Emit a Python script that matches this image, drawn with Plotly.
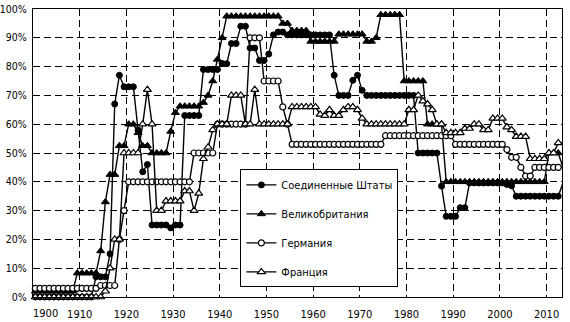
import plotly.graph_objects as go

years = list(range(1900, 2014))

# Top marginal income tax rates, % (one value per year 1900-2013)
us = [
    0, 0, 0, 0, 0, 0, 0, 0, 0, 0,
    0, 0, 0, 7, 7, 7, 15, 67, 77, 73,
    73, 73, 58, 43.5, 46, 25, 25, 25, 25, 24,
    25, 25, 63, 63, 63, 63, 79, 79, 79, 79,
    81.1, 81, 88, 88, 94, 94, 86.45, 86.45, 82.13, 82.13,
    84.36, 91, 92, 92, 91, 91, 91, 91, 91, 91,
    91, 91, 91, 91, 77, 70, 70, 70, 75.25, 77,
    71.75, 70, 70, 70, 70, 70, 70, 70, 70, 70,
    70, 70, 50, 50, 50, 50, 50, 38.5, 28, 28,
    28, 31, 31, 39.6, 39.6, 39.6, 39.6, 39.6, 39.6, 39.6,
    39.6, 39.1, 38.6, 35, 35, 35, 35, 35, 35, 35,
    35, 35, 35, 39.6,
]
uk = [
    2, 2, 2, 2, 2, 2, 2, 2, 2, 8.3,
    8.3, 8.3, 8.3, 8.3, 16, 33, 42.5, 42.5, 52.5, 52.5,
    60, 60, 57, 52.5, 52.5, 50, 50, 50, 50, 57.5,
    64, 66.25, 66.25, 66.25, 66.25, 66.25, 67.5, 70, 75, 82.5,
    90, 97.5, 97.5, 97.5, 97.5, 97.5, 97.5, 97.5, 97.5, 97.5,
    97.5, 97.5, 97.5, 95, 95, 92.5, 92.5, 92.5, 92.5, 88.75,
    88.75, 88.75, 88.75, 88.75, 88.75, 91.25, 91.25, 91.25, 91.25, 91.25,
    91.25, 88.75, 88.75, 90, 98, 98, 98, 98, 98, 75,
    75, 75, 75, 75, 60, 60, 60, 60, 40, 40,
    40, 40, 40, 40, 40, 40, 40, 40, 40, 40,
    40, 40, 40, 40, 40, 40, 40, 40, 40, 40,
    50, 50, 50, 45,
]
germany = [
    3, 3, 3, 3, 3, 3, 3, 3, 3, 3,
    3, 3, 3, 3, 4, 4, 4, 4, 20, 30,
    40, 40, 40, 40, 40, 40, 40, 40, 40, 40,
    40, 40, 40, 40, 50, 50, 50, 50, 50, 60,
    60, 60, 60, 60, 60, 60, 90, 90, 90, 75,
    75, 75, 75, 66, 60, 53, 53, 53, 53, 53,
    53, 53, 53, 53, 53, 53, 53, 53, 53, 53,
    53, 53, 53, 53, 53, 56, 56, 56, 56, 56,
    56, 56, 56, 56, 56, 56, 56, 56, 56, 56,
    53, 53, 53, 53, 53, 53, 53, 53, 53, 53,
    53, 51.2, 48.5, 48.5, 45, 42, 42, 45, 45, 45,
    45, 45, 45, 45,
]
france = [
    0, 0, 0, 0, 0, 0, 0, 0, 0, 0,
    0, 0, 0, 0, 0, 2, 10, 20, 20, 50,
    50, 50, 50, 60, 72, 60, 30, 30, 33.3, 33.3,
    33.3, 33.3, 36.8, 36.8, 30, 36, 48, 52, 58, 60,
    60, 60, 70, 70, 70, 60, 60, 72, 60, 60,
    60, 60, 60, 60, 60, 66, 66, 66, 66, 66,
    66, 63.4, 63, 65, 63, 63, 65, 66, 66, 65,
    62, 60, 60, 60, 60, 60, 60, 60, 60, 60,
    65, 65, 70, 68, 67, 65, 60, 60, 57, 57,
    57, 57, 58.5, 58.5, 60, 60, 58, 58, 62, 62,
    62, 59, 58, 55.7, 55.7, 55.7, 48, 48, 48, 48,
    50, 50, 53.5, 53.5,
]

series_names = ["Соединенные Штаты", "Великобритания", "Германия", "Франция"]
decade_ticks = [1900, 1910, 1920, 1930, 1940, 1950, 1960, 1970, 1980, 1990, 2000, 2010]
decade_labels = ["1900", "1910", "1920", "1930", "1940", "1950", "1960", "1970",
                 "1980", "1990", "2000", "2010"]
pct_ticks = [0, 10, 20, 30, 40, 50, 60, 70, 80, 90, 100]
pct_labels = ["0%", "10%", "20%", "30%", "40%", "50%", "60%", "70%", "80%", "90%", "100%"]

FONT = "Liberation Sans Narrow, Arial Narrow, DejaVu Sans Condensed, Liberation Sans, sans-serif"

xpos = [y + 0.5 for y in years]  # annual values plotted at mid-year

styles = [
    dict(symbol="circle", size=6, color="black", line=dict(color="black", width=1)),
    dict(symbol="triangle-up", size=7, color="black", line=dict(color="black", width=1)),
    dict(symbol="circle", size=6, color="white", line=dict(color="black", width=1.2)),
    dict(symbol="triangle-up", size=7, color="white", line=dict(color="black", width=1.2)),
]

fig = go.Figure()
for name, vals, mk in zip(series_names, [us, uk, germany, france], styles):
    fig.add_trace(go.Scatter(
        x=xpos, y=vals, name=name, mode="lines+markers",
        line=dict(color="black", width=1.4),
        marker=mk, cliponaxis=False, legendgroup=name,
    ))

axis_common = dict(
    showgrid=True, gridcolor="black", gridwidth=1.4, griddash="7px,4px",
    showline=True, mirror=True, linecolor="black", linewidth=1.4,
    zeroline=False, ticks="", automargin=False,
)

fig.update_layout(
    width=570, height=322,
    margin=dict(l=33, r=8, t=9, b=25),
    paper_bgcolor="white", plot_bgcolor="white",
    font=dict(family=FONT, size=11, color="black"),
    xaxis=dict(range=[1900, 2013.3], tickmode="array", tickvals=decade_ticks,
               ticktext=[""] + decade_labels[1:], ticklabelstandoff=7,
               tickfont=dict(size=11, color="black", family=FONT), **axis_common),
    yaxis=dict(range=[0, 100], tickmode="array", tickvals=pct_ticks,
               ticktext=pct_labels, ticklabelstandoff=3,
               tickfont=dict(size=10.5, color="black", family=FONT), **axis_common),
    legend=dict(x=0.392, y=0.443, xanchor="left", yanchor="top",
                bgcolor="white", bordercolor="black", borderwidth=1,
                font=dict(size=11, family=FONT), tracegroupgap=10,
                itemwidth=30, traceorder="grouped"),
    showlegend=True,
    annotations=[dict(text=decade_labels[0], x=decade_ticks[0] + 2.6, xref="x",
                      y=-0.056, yref="paper", xanchor="center", yanchor="middle",
                      showarrow=False, font=dict(size=11, family=FONT))],
)

fig.write_html("out.html")
